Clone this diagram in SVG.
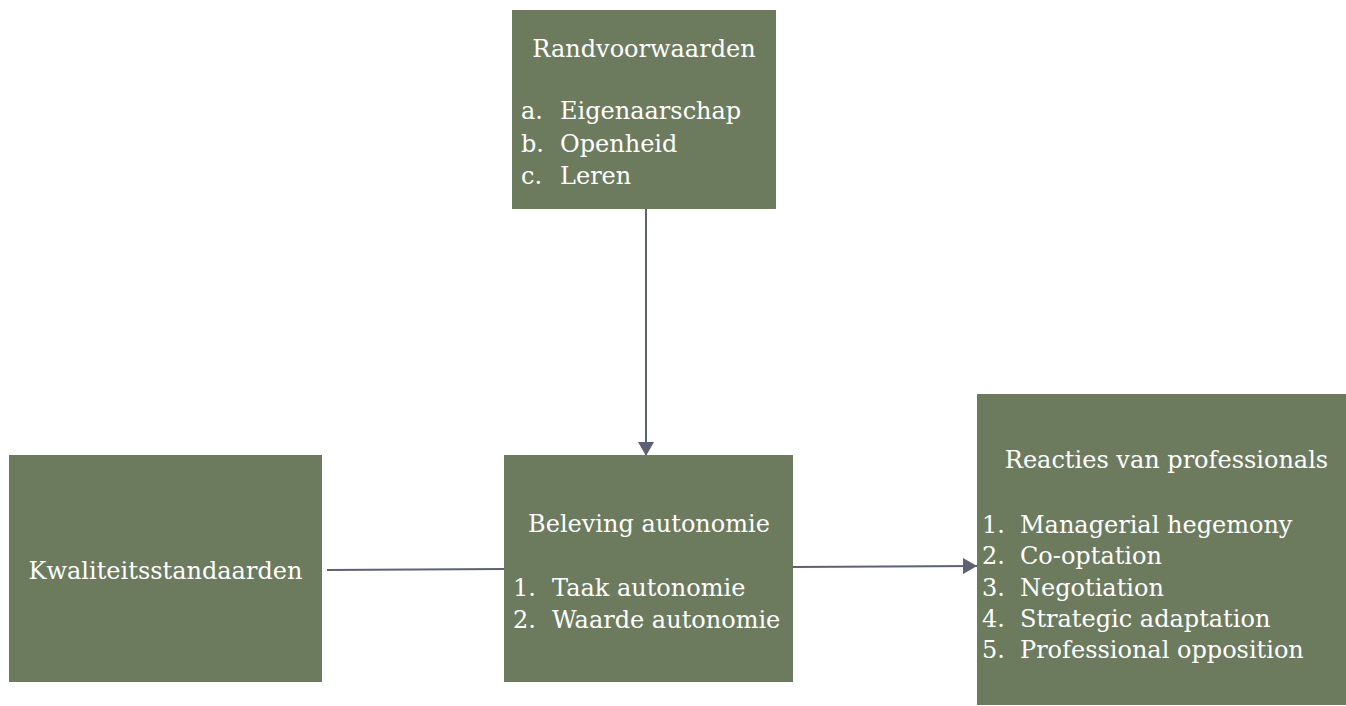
<svg xmlns="http://www.w3.org/2000/svg" width="1346" height="706" viewBox="0 0 1346 706">
<style>
.box{fill:#6C7B5E}
.t{font-family:"DejaVu Serif","Liberation Serif",serif;font-size:24px;fill:#FFFFFF}
.c{text-anchor:middle}
.ln{stroke:#5E6174;stroke-width:2;fill:none}
</style>
<defs>
<marker id="ah" viewBox="0 0 14 16" refX="14" refY="8" markerWidth="14" markerHeight="16" markerUnits="userSpaceOnUse" orient="auto">
<path d="M0,0 L14,8 L0,16 z" fill="#5E6174"/>
</marker>
</defs>
<rect width="1346" height="706" fill="#FFFFFF"/>
<g id="connectors">
<line class="ln" x1="646" y1="209" x2="646" y2="456" marker-end="url(#ah)"/>
<line class="ln" x1="327" y1="570" x2="504" y2="569"/>
<line class="ln" x1="793" y1="567" x2="977" y2="566" marker-end="url(#ah)"/>
</g>
<g id="randvoorwaarden">
<rect class="box" x="512" y="10" width="264" height="199"/>
<text class="t c" x="644" y="57">Randvoorwaarden</text>
<text class="t" x="521" y="119">a.</text><text class="t" x="560" y="119">Eigenaarschap</text>
<text class="t" x="521" y="152">b.</text><text class="t" x="560" y="152">Openheid</text>
<text class="t" x="521" y="184">c.</text><text class="t" x="560" y="184">Leren</text>
</g>
<g id="kwaliteitsstandaarden">
<rect class="box" x="9" y="455" width="313" height="227"/>
<text class="t c" x="165.5" y="579">Kwaliteitsstandaarden</text>
</g>
<g id="beleving">
<rect class="box" x="504" y="455" width="289" height="227"/>
<text class="t c" x="649" y="532">Beleving autonomie</text>
<text class="t" x="513" y="596">1.</text><text class="t" x="552" y="596">Taak autonomie</text>
<text class="t" x="513" y="628">2.</text><text class="t" x="552" y="628">Waarde autonomie</text>
</g>
<g id="reacties">
<rect class="box" x="977" y="394" width="369" height="311"/>
<text class="t c" x="1166.5" y="468">Reacties van professionals</text>
<text class="t" x="982" y="533">1.</text><text class="t" x="1020" y="533">Managerial hegemony</text>
<text class="t" x="982" y="564">2.</text><text class="t" x="1020" y="564">Co-optation</text>
<text class="t" x="982" y="596">3.</text><text class="t" x="1020" y="596">Negotiation</text>
<text class="t" x="982" y="627">4.</text><text class="t" x="1020" y="627">Strategic adaptation</text>
<text class="t" x="982" y="658">5.</text><text class="t" x="1020" y="658">Professional opposition</text>
</g>
</svg>
